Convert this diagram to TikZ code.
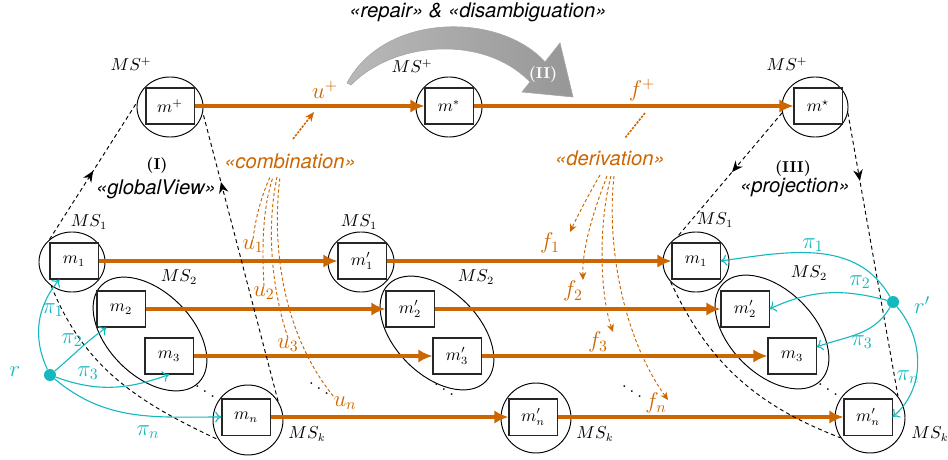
\documentclass[tikz,border=0pt]{standalone}
\usepackage{fontspec}
\newfontfamily\hv{TeX Gyre Heros}
\usetikzlibrary{arrows.meta,shapes.geometric,decorations.markings,calc}
\definecolor{orng}{RGB}{204,102,0}
\definecolor{cyn}{RGB}{20,185,190}
\begin{document}
\begin{tikzpicture}[x=0.633pt,y=0.633pt,
  mbox/.style={draw=black!85,line width=0.65pt,minimum width=30.4pt,minimum height=22.8pt,inner sep=0pt,font=\fontsize{10.5}{12}\selectfont},
  msc/.style={draw,ellipse,line width=0.6pt,minimum width=41.8pt,minimum height=38pt,inner sep=0pt},
  msk/.style={draw,circle,line width=0.6pt,minimum size=44.3pt,inner sep=0pt},
  msel/.style={draw,ellipse,line width=0.6pt,minimum width=87pt,minimum height=53pt,inner sep=0pt,rotate=-45},
  mslab/.style={font=\fontsize{10.5}{12}\selectfont,inner sep=0pt},
  olab/.style={text=orng,font=\fontsize{14.5}{16}\selectfont,inner sep=0pt},
  clab/.style={text=cyn,font=\fontsize{14.5}{16}\selectfont,inner sep=0pt},
  stereo/.style={font=\hv\itshape\fontsize{12.8}{14}\selectfont,inner sep=0pt},
  roman/.style={font=\bfseries\fontsize{10}{12}\selectfont,inner sep=0pt},
  dotsnode/.style={font=\fontsize{12}{13}\selectfont\boldmath,inner sep=0pt},
  oarr/.style={draw=orng,line width=2.4pt,-{Latex[length=9pt,width=8.5pt]}},
  odash/.style={draw=orng,line width=0.6pt,dash pattern=on 2pt off 1.5pt},
  odarr/.style={odash,-{Stealth[length=5pt,width=4.5pt]}},
  othick/.style={draw=orng,line width=1pt,dash pattern=on 1.5pt off 0.8pt},
  carr/.style={draw=cyn,line width=0.7pt,-{To[length=4pt,width=7pt]}},
  bdash/.style={draw=black,line width=0.6pt,dash pattern=on 2.5pt off 2pt},
  midarr/.style={postaction={decorate},decoration={markings,mark=at position #1 with {\pgfsetdash{}{0pt}\arrow{Stealth[length=7pt,width=6pt]}}}},
  midarr/.default=0.5,
  dotfill/.style={circle,fill=cyn,minimum size=7.6pt,inner sep=0pt}
]
\useasboundingbox (0,0) rectangle (948,-460);

% ---- grey curved arrow (II)
\shade[left color=gray!55,right color=gray!82,draw=gray!70,line width=0.4pt]
  (347,-83) .. controls (385,-12) and (500,-12) .. (545,-62) -- (560,-43) -- (573,-97) -- (522,-92) -- (530,-82)
  .. controls (485,-35) and (395,-40) .. (351,-85) -- cycle;
\node[roman,text=white] (II) at (543,-75) {(II)};
\node[stereo] (title) at (478,-12) {«repair» \& «disambiguation»};

% ---- top row
\node[msc] (cp) at (170,-107) {};
\node[mbox] (bp) at (170,-106) {$m^+$};
\node[msc] (cs) at (449,-107) {};
\node[mbox] (bs) at (449,-106) {$m^*$};
\node[msc] (cs2) at (815,-107) {};
\node[mbox] (bs2) at (818,-106) {$m^\star$};
\node[mslab] (lp1) at (131,-64) {$MS^+$};
\node[mslab] (lp2) at (412,-66) {$MS^+$};
\node[mslab] (lp3) at (787,-64) {$MS^+$};

% ---- left group
\node[msc] (ca1) at (72,-262) {};
\node[mbox] (a1) at (74,-261) {$m_1$};
\node[msel] (ea) at (150,-334) {};
\node[mbox] (a2) at (121,-309) {$m_2$};
\node[mbox] (a3) at (169,-356) {$m_3$};
\node[msk] (cn1) at (248,-420) {};
\node[mbox] (an) at (246,-417) {$m_n$};
\node[mslab] (la1) at (89,-222) {$MS_1$};
\node[mslab] (la2) at (179,-277) {$MS_2$};
\node[mslab] (lak) at (307,-434) {$MS_k$};

% ---- middle group
\node[msc] (cb1n) at (361,-262) {};
\node[mbox] (b1) at (362,-261) {$m'_1$};
\node[msel] (eb) at (437,-333) {};
\node[mbox] (b2) at (410,-309) {$m'_2$};
\node[mbox] (b3) at (457,-356) {$m'_3$};
\node[msk] (cn2) at (536,-418) {};
\node[mbox] (bn) at (533,-417) {$m'_n$};
\node[mslab] (lb1) at (359,-222) {$MS_1$};
\node[mslab] (lb2) at (476,-277) {$MS_2$};
\node[mslab] (lbk) at (595,-434) {$MS_k$};

% ---- right group
\node[msc] (ca3) at (696,-262) {};
\node[mbox] (c1) at (696,-261) {$m_1$};
\node[msel] (ec) at (772,-332) {};
\node[mbox] (c2) at (745,-309) {$m'_2$};
\node[mbox] (c3) at (792,-356) {$m_3$};
\node[msk] (cn3) at (870,-418) {};
\node[mbox] (cn) at (868,-417) {$m'_n$};
\node[mslab] (lc1) at (715,-220) {$MS_1$};
\node[mslab] (lc2) at (809,-273) {$MS_2$};
\node[mslab] (lck) at (930,-434) {$MS_k$};

% ---- dots
\node[dotsnode] (d1) at (205,-387) {$\ddots$};
\node[dotsnode] (d2) at (319,-384) {$\ddots$};
\node[dotsnode] (d3) at (444,-385) {$\ddots$};
\node[dotsnode] (d4) at (632,-387) {$\ddots$};
\node[dotsnode] (d5) at (828,-385) {$\ddots$};

% ---- orange arrows
\draw[oarr] (bp.east) -- (bs.west);
\draw[oarr] (bs.east) -- (bs2.west);
\draw[oarr] (a1.east) -- (b1.west);
\draw[oarr] (b1.east) -- (c1.west);
\draw[oarr] (a2.east) -- (b2.west);
\draw[oarr] (b2.east) -- (c2.west);
\draw[oarr] (a3.east) -- (b3.west);
\draw[oarr] (b3.east) -- (c3.west);
\draw[oarr] (an.east) -- (bn.west);
\draw[oarr] (bn.east) -- (cn.west);

\node[olab] (up) at (325,-90) {$u^+$};
\node[olab] (fp) at (642,-90) {$f^+$};
\node[olab] (u1) at (253,-246) {$u_1$};
\node[olab] (u2) at (264,-293) {$u_2$};
\node[olab] (u3) at (288,-345) {$u_3$};
\node[olab] (un) at (345,-403) {$u_n$};
\node[olab] (f1) at (550,-243) {$f_1$};
\node[olab] (f2) at (573,-291) {$f_2$};
\node[olab] (f3) at (598,-342) {$f_3$};
\node[olab] (fn) at (656,-403) {$f_n$};

% ---- stereotype labels
\node[stereo,text=orng] (comb) at (290,-161) {«combination»};
\node[stereo,text=orng] (deriv) at (610,-158) {«derivation»};
\node[roman] (I) at (157,-166) {(I)};
\node[stereo] (glob) at (156,-189) {«globalView»};
\node[roman] (III) at (793,-169) {(III)};
\node[stereo] (proj) at (795,-188) {«projection»};

% ---- combination / derivation small arrows
\coordinate (cs0) at (293,-139);
\coordinate (cs1) at (314,-112);
\draw[othick,-{Stealth[length=6pt,width=5pt]}] (cs0) -- (cs1);
\coordinate (ds0) at (645,-113);
\coordinate (ds1) at (625,-138);
\draw[othick] (ds0) -- (ds1);

\coordinate (cb1) at (270,-177);
\coordinate (cb2) at (273,-177);
\coordinate (cb3) at (277,-177);
\coordinate (cb4) at (280,-177);
\draw[odash] (u1.north) .. controls (256,-215) and (262,-195) .. (cb1);
\draw[odash] (u2.north) .. controls (262,-250) and (262,-210) .. (cb2);
\draw[odash] (u3.north) .. controls (272,-290) and (266,-230) .. (cb3);
\draw[odash] (un.north west) .. controls (280,-330) and (272,-240) .. (cb4);

\coordinate (db1) at (600,-175);
\coordinate (db2) at (607,-176);
\coordinate (db3) at (611,-176);
\coordinate (db4) at (614,-176);
\coordinate (dt1) at (570,-232);
\coordinate (dt2) at (583,-280);
\coordinate (dt3) at (613,-332);
\coordinate (dt4) at (668,-400);
\draw[odarr] (db1) .. controls (590,-192) and (578,-215) .. (dt1);
\draw[odarr] (db2) .. controls (596,-205) and (582,-245) .. (dt2);
\draw[odarr] (db3) .. controls (598,-225) and (600,-295) .. (dt3);
\draw[odarr] (db4) .. controls (606,-250) and (625,-340) .. (dt4);

% ---- black dashed view lines
\draw[bdash,midarr=0.5] (ca1.135) -- (cp.172);
\draw[bdash,midarr=0.76] (cn1.32) -- (cp.350);
\draw[bdash] (ca1.229) to[out=-68,in=155] (cn1.214);
\draw[bdash,midarr=0.48] (cs2.190) -- (ca3.126);
\draw[bdash,midarr=0.24] (cs2.350) -- (cn3.38);
\draw[bdash] (ca3.218) to[out=-65,in=159] (cn3.214);

% ---- cyan mappings
\node[dotfill] (r) at (50,-375) {};
\node[clab] (rl) at (15,-372) {$r$};
\draw[carr] (r) to[out=115,in=230] ([xshift=6.3pt]a1.south west);
\draw[carr] (r) to[out=40,in=215] ([xshift=6.3pt]a2.south west);
\draw[carr] (r) to[out=-20,in=200] (a3.south);
\draw[carr] (r) to[out=-40,in=180] (an.west);
\node[clab] (lpi1) at (53,-310) {$\pi_1$};
\node[clab] (lpi2) at (72,-340) {$\pi_2$};
\node[clab] (lpi3) at (88,-373) {$\pi_3$};
\node[clab] (lpin) at (148,-432) {$\pi_n$};

\node[dotfill] (rp) at (893,-302) {};
\node[clab] (rpl) at (922,-305) {$r'$};
\draw[carr] (rp) to[out=120,in=8] (c1.east);
\draw[carr] (rp) to[out=165,in=25] (c2.east);
\draw[carr] (rp) to[out=-120,in=20] ([yshift=5.7pt]c3.east);
\draw[carr] (rp) to[out=-50,in=40] (cn.east);
\node[clab] (rpi1) at (813,-245) {$\pi_1$};
\node[clab] (rpi2) at (860,-282) {$\pi_2$};
\node[clab] (rpi3) at (862,-342) {$\pi_3$};
\node[clab] (rpin) at (908,-377) {$\pi_n$};
\end{tikzpicture}
\end{document}
